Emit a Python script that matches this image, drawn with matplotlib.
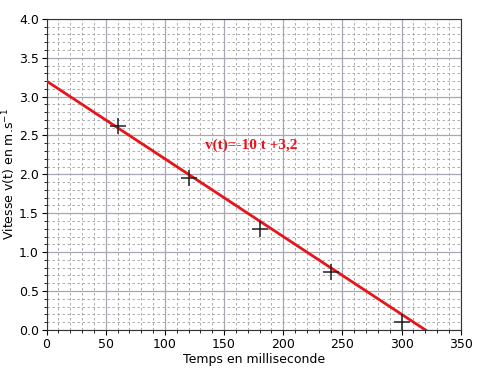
import matplotlib.pyplot as plt
from matplotlib.ticker import MultipleLocator

t_ms = [60, 120, 180, 240, 300]
v = [2.62, 1.95, 1.30, 0.75, 0.10]

fit_t = [0, 330]
slope = -10 / 1000  # -10 m.s-2 with t in ms
intercept = 3.2

fig, ax = plt.subplots(figsize=(4.8, 3.77), dpi=100)
fig.subplots_adjust(left=0.097, right=0.96, top=0.95, bottom=0.125)

ax.set_xlim(0, 350)
ax.set_ylim(0, 4.0)
ax.xaxis.set_major_locator(MultipleLocator(50))
ax.xaxis.set_minor_locator(MultipleLocator(10))
ax.yaxis.set_major_locator(MultipleLocator(0.5))
ax.yaxis.set_minor_locator(MultipleLocator(0.1))
ax.grid(which='major', color='#a8a8b4', lw=0.9)
ax.grid(which='minor', color='#a0a0a0', lw=0.6, ls=(0, (3, 3)))
ax.set_axisbelow(True)

ax.plot(fit_t, [intercept + slope * t for t in fit_t], color='#e8141c', lw=2, zorder=3)
ax.plot(t_ms, v, '+', color='#222222', ms=11, mew=1.1, zorder=4)

ax.text(134, 2.33, 'v(t)=-10 t +3,2', color='#e8141c', fontsize=11,
        family='Liberation Serif', fontweight='bold')

ax.set_xlabel('Temps en milliseconde', fontsize=9, labelpad=2)
ax.set_ylabel('Vitesse v(t) en m.s$^{-1}$', fontsize=9, labelpad=1)
ax.tick_params(labelsize=9, pad=2)
for s in ax.spines.values():
    s.set_color('#333333')

plt.savefig('out.png')
